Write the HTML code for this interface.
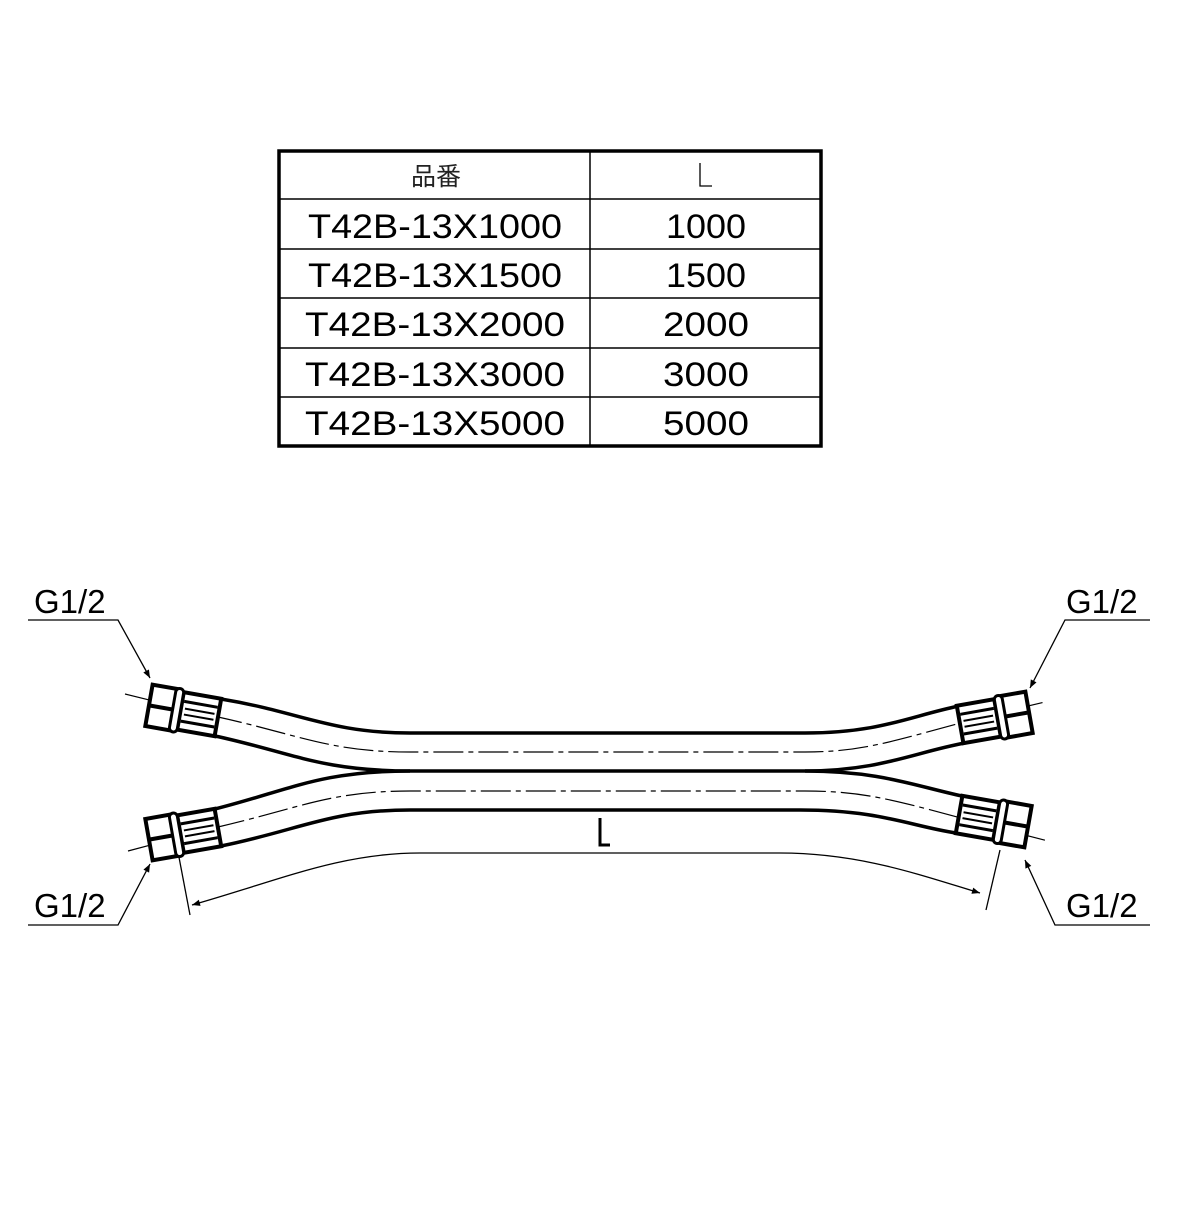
<!DOCTYPE html>
<html><head><meta charset="utf-8"><style>
html,body{margin:0;padding:0;background:#fff}
svg{display:block}
text{font-family:"Liberation Sans","Noto Sans CJK JP",sans-serif;fill:#000}
</style></head><body>
<svg width="1192" height="1220" viewBox="0 0 1192 1220" xmlns="http://www.w3.org/2000/svg">
<defs>
<g id="fit" fill="#fff" stroke="#000">
 <rect x="34" y="-19" width="38" height="38" stroke-width="4"/>
 <line x1="36" y1="-10" x2="70" y2="-10" stroke-width="3"/>
 <line x1="36" y1="10" x2="70" y2="10" stroke-width="3"/>
 <line x1="38" y1="-3" x2="68" y2="-3" stroke-width="2"/>
 <line x1="38" y1="3" x2="68" y2="3" stroke-width="2"/>
 <rect x="2" y="-21" width="26" height="42" stroke-width="4"/>
 <line x1="2" y1="0" x2="28" y2="0" stroke-width="4"/>
 <rect x="26" y="-22" width="8" height="44" rx="4" stroke-width="3"/>
</g>
<marker id="ar" viewBox="0 0 10 10" refX="10" refY="5" markerWidth="18" markerHeight="8" markerUnits="userSpaceOnUse" orient="auto"><path d="M0,1 L10,5 L0,9z" fill="#000"/></marker>
</defs>
<rect x="279" y="151" width="542" height="295" fill="none" stroke="#000" stroke-width="3.5"/>
<line x1="590" y1="151" x2="590" y2="446" stroke="#000" stroke-width="1.5"/>
<g stroke="#000" stroke-width="1.5">
<line x1="279" y1="199" x2="821" y2="199"/>
<line x1="279" y1="249" x2="821" y2="249"/>
<line x1="279" y1="298" x2="821" y2="298"/>
<line x1="279" y1="348" x2="821" y2="348"/>
<line x1="279" y1="397" x2="821" y2="397"/>
</g>
<text x="436" y="185" font-size="25" text-anchor="middle" style="fill:#222">品番</text>
<path d="M700,163 V186 H712" fill="none" stroke="#000" stroke-width="1.3"/>
<g font-size="34">
<text x="308" y="238" textLength="254" lengthAdjust="spacingAndGlyphs">T42B-13X1000</text>
<text x="308" y="287" textLength="254" lengthAdjust="spacingAndGlyphs">T42B-13X1500</text>
<text x="305" y="336" textLength="260" lengthAdjust="spacingAndGlyphs">T42B-13X2000</text>
<text x="305" y="386" textLength="260" lengthAdjust="spacingAndGlyphs">T42B-13X3000</text>
<text x="305" y="435" textLength="260" lengthAdjust="spacingAndGlyphs">T42B-13X5000</text>
<text x="706" y="238" text-anchor="middle" textLength="80" lengthAdjust="spacingAndGlyphs">1000</text>
<text x="706" y="287" text-anchor="middle" textLength="80" lengthAdjust="spacingAndGlyphs">1500</text>
<text x="706" y="336" text-anchor="middle" textLength="86" lengthAdjust="spacingAndGlyphs">2000</text>
<text x="706" y="386" text-anchor="middle" textLength="86" lengthAdjust="spacingAndGlyphs">3000</text>
<text x="706" y="435" text-anchor="middle" textLength="86" lengthAdjust="spacingAndGlyphs">5000</text>
</g>
<g fill="none" stroke="#000">
<path d="M221,699 C300,712 330,733 410,733 L805,733 C880,733 910,716 959,706" stroke-width="3.5"/>
<path d="M215,736 C290,752 320,771 410,771 L805,771 C880,771 915,752 965,743" stroke-width="3.5"/>
<path d="M215,809 C290,790 320,771 410,771 M805,771 C880,771 915,786 962,796" stroke-width="3.5"/>
<path d="M221,846 C300,830 330,810 410,810 L800,810 C880,810 910,826 956,833" stroke-width="3.5"/>
<g stroke-width="1.2" stroke-dasharray="30,5,5,5">
<path d="M125,694 L218,717 C300,735 330,752 410,752 L805,752 C880,752 910,733 1045,702"/>
<path d="M128,851 L218,827 C300,808 330,791 410,791 L805,791 C880,791 910,806 1048,841"/>
</g>
<path d="M420,853 C340,853 280,880 192,905" stroke-width="1.3" marker-end="url(#ar)"/>
<path d="M420,853 L780,853" stroke-width="1.3"/>
<path d="M780,853 C860,853 920,875 980,893" stroke-width="1.3" marker-end="url(#ar)"/>
<line x1="178" y1="852" x2="190" y2="915" stroke-width="1.3"/>
<line x1="1000" y1="850" x2="986" y2="910" stroke-width="1.3"/>
<path d="M28,620 H118 L150,678" stroke-width="1.3" marker-end="url(#ar)"/>
<path d="M1150,620 H1065 L1030,688" stroke-width="1.3" marker-end="url(#ar)"/>
<path d="M28,925 H118 L150,864" stroke-width="1.3" marker-end="url(#ar)"/>
<path d="M1150,925 H1055 L1025,860" stroke-width="1.3" marker-end="url(#ar)"/>
</g>
<use href="#fit" transform="translate(147,705) rotate(10)"/>
<use href="#fit" transform="translate(1031,712) rotate(-10) scale(-1,1)"/>
<use href="#fit" transform="translate(147,840) rotate(-10)"/>
<use href="#fit" transform="translate(1030,827) rotate(10) scale(-1,1)"/>
<g font-size="33">
<text x="34" y="613">G1/2</text>
<text x="1066" y="613">G1/2</text>
<text x="34" y="917">G1/2</text>
<text x="1066" y="917">G1/2</text>
</g>
<path d="M600,818 V845 H610" fill="none" stroke="#000" stroke-width="3"/>
</svg>
</body></html>
